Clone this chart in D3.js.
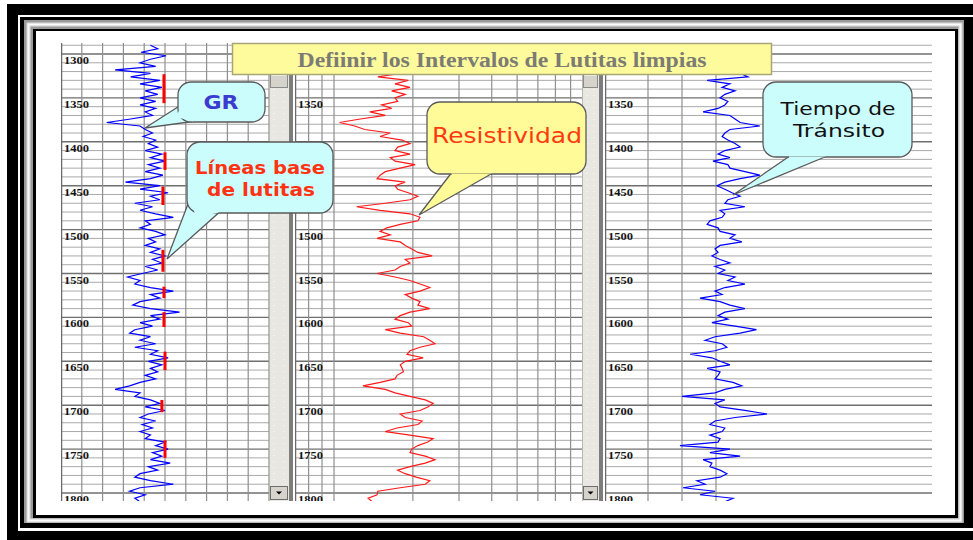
<!DOCTYPE html>
<html>
<head>
<meta charset="utf-8">
<script src="https://cdn.jsdelivr.net/npm/d3@7"></script>
<style>
  html, body { margin: 0; padding: 0; background: #fff; }
  svg { display: block; }
</style>
</head>
<body>
<svg id="chart" width="973" height="540"></svg>
<script>
// ---- Log data: one sample every 4 ft starting at 1290 ft ----
const depthStart = 1290;
const depthStep = 4;

// Gamma ray (API)
const grValues = [
  86,93,77,101,86,76,91,52,86,67,
  95,76,97,81,93,76,91,76,91,81,
  88,67,44,76,81,88,79,91,84,93,
  81,97,86,100,84,95,81,98,86,62,
  95,76,103,86,95,71,88,76,91,108,
  81,86,76,91,100,84,91,81,95,86,
  100,88,97,81,93,78,64,76,71,86,
  108,86,95,76,69,86,114,86,95,76,
  88,71,66,86,76,91,71,93,86,103,
  84,97,86,93,81,91,76,66,52,76,
  71,86,95,81,100,84,76,91,78,88,
  76,86,81,100,91,103,88,97,86,105,
  84,93,76,71,86,108,76,66,81,71,
  76
];

// Resistivity (ohm-m)
const resValues = [
  1.79,1.87,1.71,1.79,1.64,1.71,1.87,1.71,1.79,1.47,
  1.92,1.71,1.95,1.66,1.87,1.71,1.75,1.52,1.66,1.37,
  1.57,1.26,1.05,1.20,1.31,1.64,1.50,1.82,1.95,1.75,
  1.71,1.95,1.64,1.71,2.04,1.79,1.57,1.50,1.46,1.87,
  1.71,1.75,1.92,2.09,1.95,1.57,1.22,1.50,1.95,2.13,
  2.09,1.79,1.59,1.50,1.64,1.46,1.79,1.87,1.98,2.09,
  2.37,1.87,1.95,1.79,1.71,1.46,1.71,1.95,2.13,2.32,
  2.13,1.87,1.98,2.13,2.09,2.32,1.95,1.79,1.71,1.92,
  1.98,1.57,1.79,2.20,2.32,2.43,2.13,1.95,1.90,2.19,
  1.87,1.79,1.82,1.84,1.74,1.71,1.50,1.29,1.57,1.71,
  1.95,2.23,2.39,2.28,2.13,1.79,1.87,2.17,2.09,1.74,
  1.57,1.95,2.39,2.28,2.09,1.98,1.95,2.23,2.43,2.23,
  1.95,1.75,1.87,2.06,2.32,2.23,1.79,1.47,1.46,1.35,
  1.40
];

// Sonic transit time (us/ft)
const dtValues = [
  105.9,107.4,104.4,106.5,105.3,103.5,105.9,104.4,102.9,100.6,
  112.6,105.9,108.2,104.4,107.4,108.8,106.5,107.4,109.4,113.8,
  105.9,104.4,102.9,97.1,105.9,107.4,108.2,106.5,104.4,102.9,
  107.4,109.4,105.9,110.9,106.5,105.9,101.5,97.1,102.9,107.4,
  109.7,107.4,105.3,102.9,106.5,107.4,101.5,108.8,107.4,108.2,
  111.8,112.6,109.4,108.8,104.4,105.9,102.4,108.8,110.3,109.4,
  111.2,108.8,105.9,110.3,107.4,109.4,104.4,106.5,101.5,107.4,
  110.3,108.2,114.7,108.8,105.9,101.5,107.4,109.4,106.5,111.2,
  104.4,98.1,102.9,110.3,113.2,108.2,106.8,110.3,117.6,111.2,
  108.8,105.9,112.6,108.8,109.4,110.3,105.0,102.4,107.4,110.3,
  120.0,107.4,110.3,108.8,101.5,95.0,104.4,110.3,111.8,107.4,
  108.2,111.8,108.8,109.4,120.6,105.9,111.8,102.9,113.8,111.2,
  111.8,108.8,106.8,108.8,115.6,113.2,119.7,110.3,114.7,105.0,
  107.4
];

// Shale base line picks on the GR track
const shaleTop    = [1323, 1412, 1451, 1523, 1565, 1594, 1639, 1694, 1740];
const shaleBottom = [1356, 1432, 1472, 1548, 1578, 1611, 1660, 1708, 1760];
const shaleGR     = [99, 100, 98, 98, 99, 99, 100, 97, 100];

// Axis ticks
const depthLabels = [1300, 1350, 1400, 1450, 1500, 1550, 1600, 1650, 1700, 1750, 1800];
const grTicks  = [0, 20, 40, 60, 80, 100, 120, 140, 160, 180, 200];
const resTicks = [0.7, 0.8, 0.9, 1, 2, 3, 4, 5, 6, 7, 8, 9];
const dtTicks  = [130, 120, 110];

const titleText = "Defiinir los Intervalos de Lutitas limpias";

// ---- Drawing ----
const svg = d3.select("#chart");
const defs = svg.append("defs");

// Picture frame
const frame = svg.append("g");
frame.append("rect").attr("x", 7).attr("y", 4).attr("width", 966).attr("height", 536).attr("fill", "#000");
frame.append("rect").attr("x", 18).attr("y", 15).attr("width", 955).attr("height", 516).attr("fill", "#fff");
frame.append("rect").attr("x", 20).attr("y", 17).attr("width", 953).attr("height", 511).attr("fill", "#000");
frame.append("rect").attr("x", 24).attr("y", 20).attr("width", 940).attr("height", 503).attr("fill", "#9a9a9a");
frame.append("rect").attr("x", 28.5).attr("y", 24.5).attr("width", 932).attr("height", 496)
  .attr("fill", "none").attr("stroke", "#dedede").attr("stroke-width", 4);
frame.append("rect").attr("x", 28.5).attr("y", 24.5).attr("width", 932).attr("height", 496)
  .attr("fill", "none").attr("stroke", "#fafafa").attr("stroke-width", 1.5);
frame.append("rect").attr("x", 33).attr("y", 29).attr("width", 925).attr("height", 489).attr("fill", "#000");
frame.append("rect").attr("x", 36).attr("y", 31).attr("width", 919).attr("height", 484).attr("fill", "#fff");

// Depth scale shared by all tracks
const y = d3.scaleLinear().domain([1300, 1800]).range([54, 493]);
const gridTop = 43, gridBottom = 501;
const depthAt = i => depthStart + i * depthStep;
const minorDepths = d3.range(1290, 1811, 10);

const grX  = d3.scaleLinear().domain([0, 200]).range([61, 269]);
const resX = d3.scaleLog().domain([1, 10]).range([334, 596]);
const dtX  = d3.scaleLinear().domain([140, 40]).range([614, 954]);

// Title banner extent (depth labels beneath it stay hidden)
const banner = { x: 232.5, y: 43.5, w: 539, h: 31 };

const tracks = [
  { id: "gr",  x0: 61,  x1: 269, xs: grX,  ticks: grTicks,  values: grValues,  color: "#0000ff", labelX: 64 },
  { id: "res", x0: 295, x1: 582, xs: resX, ticks: resTicks, values: resValues, color: "#ff1a1a", labelX: 298 },
  { id: "dt",  x0: 605, x1: 932, xs: dtX,  ticks: dtTicks,  values: dtValues,  color: "#0000ff", labelX: 608 }
];

tracks.forEach(t => {
  defs.append("clipPath").attr("id", "clip-" + t.id)
    .append("rect").attr("x", t.x0).attr("y", gridTop).attr("width", t.x1 - t.x0).attr("height", gridBottom - gridTop);

  const g = svg.append("g").attr("clip-path", `url(#clip-${t.id})`);

  // horizontal depth grid
  g.selectAll("line.h").data(minorDepths).join("line")
    .attr("x1", t.x0).attr("x2", t.x1)
    .attr("y1", d => y(d)).attr("y2", d => y(d))
    .attr("stroke", d => d % 50 === 0 ? "#6f6f6f" : "#a9a9a9")
    .attr("stroke-width", d => d % 50 === 0 ? 1.4 : 1);

  // vertical value grid
  g.selectAll("line.v").data(t.ticks).join("line")
    .attr("x1", d => t.xs(d)).attr("x2", d => t.xs(d))
    .attr("y1", gridTop).attr("y2", gridBottom)
    .attr("stroke", "#8f8f8f").attr("stroke-width", 1.2);

  // track left border
  g.append("line").attr("x1", t.x0 + 0.5).attr("x2", t.x0 + 0.5)
    .attr("y1", gridTop).attr("y2", gridBottom)
    .attr("stroke", "#6a6a6a").attr("stroke-width", 1.5);

  // depth labels (skip the ones the banner covers)
  const visibleLabels = depthLabels.filter(d =>
    !(t.labelX > banner.x && t.labelX < banner.x + banner.w && y(d) + 10 < banner.y + banner.h + 4));
  g.selectAll("text.depth").data(visibleLabels).join("text")
    .attr("x", t.labelX).attr("y", d => y(d) + 10)
    .attr("font-family", "'Liberation Serif', 'Times New Roman', serif")
    .attr("font-weight", "bold").attr("font-size", 11)
    .attr("textLength", 25).attr("lengthAdjust", "spacingAndGlyphs")
    .attr("fill", "#141414")
    .text(d => d);

  // log curve
  const line = d3.line()
    .x(d => t.xs(d))
    .y((d, i) => y(depthAt(i)));
  g.append("path").datum(t.values)
    .attr("d", line)
    .attr("fill", "none")
    .attr("stroke", t.color)
    .attr("stroke-width", 1.2)
    .attr("stroke-linejoin", "miter");

  if (t.id === "gr") {
    g.selectAll("line.shale").data(shaleTop).join("line")
      .attr("x1", (d, i) => grX(shaleGR[i])).attr("x2", (d, i) => grX(shaleGR[i]))
      .attr("y1", d => y(d)).attr("y2", (d, i) => y(shaleBottom[i]))
      .attr("stroke", "#ff0000").attr("stroke-width", 3);
  }
});

// Scroll bars beside tracks 1 and 2
function scrollbar(x, w) {
  const g = svg.append("g");
  const top = 73, bottom = 501;
  g.append("rect").attr("x", x).attr("y", top).attr("width", w).attr("height", bottom - top)
    .attr("fill", "#e9e7e1");
  [x + 5, x + w - 9].forEach(cx => {
    g.append("line").attr("x1", cx).attr("x2", cx).attr("y1", top + 16).attr("y2", bottom - 16)
      .attr("stroke", "#fdfdfb").attr("stroke-width", 1).attr("stroke-dasharray", "1,5");
  });
  g.append("line").attr("x1", x + 0.5).attr("x2", x + 0.5).attr("y1", top).attr("y2", bottom)
    .attr("stroke", "#b9b7b0");
  g.append("rect").attr("x", x + w - 4).attr("y", top).attr("width", 4).attr("height", bottom - top)
    .attr("fill", "#7d7d7d");
  // thumb
  g.append("rect").attr("x", x + 1.5).attr("y", top + 1.5).attr("width", w - 7).attr("height", 13)
    .attr("fill", "#d6d3cc").attr("stroke", "#8a8a8a").attr("stroke-width", 1);
  g.append("line").attr("x1", x + 2.5).attr("x2", x + w - 6.5).attr("y1", top + 2.5).attr("y2", top + 2.5)
    .attr("stroke", "#fff");
  // bottom arrow button
  g.append("rect").attr("x", x + 1.5).attr("y", bottom - 14.5).attr("width", w - 7).attr("height", 13)
    .attr("fill", "#d6d3cc").attr("stroke", "#6e6e6e").attr("stroke-width", 1);
  const cx = x + 1.5 + (w - 7) / 2, cy = bottom - 8;
  g.append("path").attr("d", `M${cx - 3},${cy - 1.5}L${cx + 3},${cy - 1.5}L${cx},${cy + 1.5}Z`).attr("fill", "#000");
}
scrollbar(269, 24);
scrollbar(582, 21);

// Title banner
svg.append("rect").attr("x", banner.x).attr("y", banner.y).attr("width", banner.w).attr("height", banner.h)
  .attr("fill", "#fefb9c").attr("stroke", "#a9a577").attr("stroke-width", 1.5);
svg.append("text").attr("x", banner.x + banner.w / 2).attr("y", 67).attr("text-anchor", "middle")
  .attr("font-family", "'Liberation Serif', 'Times New Roman', serif")
  .attr("font-weight", "bold").attr("font-size", 20)
  .attr("textLength", 409).attr("lengthAdjust", "spacingAndGlyphs")
  .attr("fill", "#7c7c74")
  .text(titleText);

// Speech-bubble callouts: rounded box plus a pointed tail
function callout(box, tail, fill) {
  const g = svg.append("g");
  g.append("path").attr("d", d3.line()(tail) + "Z")
    .attr("fill", fill).attr("stroke", "#5a5a5a").attr("stroke-width", 1.3)
    .attr("stroke-linejoin", "miter");
  g.append("rect").attr("x", box[0]).attr("y", box[1]).attr("width", box[2]).attr("height", box[3])
    .attr("rx", 13).attr("ry", 13)
    .attr("fill", fill).attr("stroke", "#5a5a5a").attr("stroke-width", 1.3);
  // cover the box border where the tail joins it
  const mx = (tail[0][0] + tail[2][0]) / 2, my = (tail[0][1] + tail[2][1]) / 2;
  const px = mx + (tail[1][0] - mx) * 0.25, py = my + (tail[1][1] - my) * 0.25;
  g.append("path").attr("d", d3.line()([tail[0], tail[2], [px, py]]) + "Z").attr("fill", fill);
  return g;
}
function label(g, text, x, yy, size, weight, color, len) {
  g.append("text").attr("x", x).attr("y", yy).attr("text-anchor", "middle")
    .attr("font-family", "'DejaVu Sans', sans-serif")
    .attr("font-weight", weight).attr("font-size", size)
    .attr("textLength", len).attr("lengthAdjust", "spacingAndGlyphs")
    .attr("fill", color).text(text);
}

const cGR = callout([178, 82, 87, 40], [[181, 105], [145, 128], [193, 121.5]], "#ccfdfd");
label(cGR, "GR", 221, 109, 19, "bold", "#3b3bd0", 35);

const cSh = callout([187, 142, 146, 71], [[191, 196], [167, 259], [219, 212.5]], "#ccfdfd");
label(cSh, "Líneas base", 260, 174, 17, "bold", "#ff3312", 130);
label(cSh, "de lutitas", 261, 196, 17, "bold", "#ff3312", 108);

const cRes = callout([427, 102, 159, 72], [[451, 173.5], [419, 215], [492, 173.5]], "#fffb98");
label(cRes, "Resistividad", 507, 143, 21, "normal", "#ff3a10", 150);

const cDt = callout([763, 82, 149, 75], [[789, 156.5], [733, 195], [826, 156.5]], "#ccfdfd");
label(cDt, "Tiempo de", 838, 115, 17, "normal", "#111", 115);
label(cDt, "Tránsito", 839, 137, 17, "normal", "#111", 92);
</script>
</body>
</html>
